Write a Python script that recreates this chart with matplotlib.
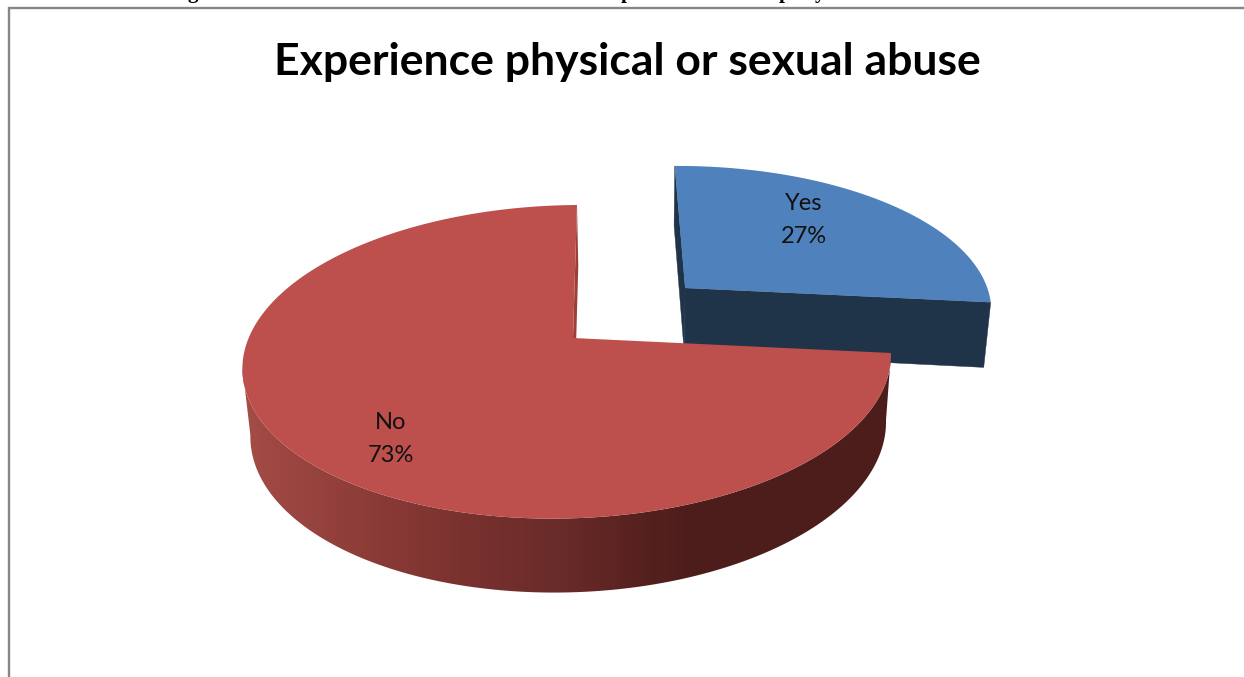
import numpy as np
import matplotlib
matplotlib.use("Agg")
import matplotlib.pyplot as plt
from matplotlib.patches import Polygon

# Survey answers
categories = ["Yes", "No"]
shares = [27, 73]
chart_title = "Experience physical or sexual abuse"

# Slice colours
top_colors = ["#4f81bd", "#bd4f4c"]
side_colors = ["#1f3349", "#9c3f3b"]

# Shading of the curved outer wall, left to right
wall_x = [250, 380, 470, 560, 650, 700, 890]
wall_rgb = np.array([[0xa3, 0x4b, 0x45], [0x8a, 0x3a, 0x36], [0x78, 0x31, 0x2e],
                     [0x69, 0x2b, 0x29], [0x54, 0x20, 0x1e], [0x4c, 0x1d, 0x1b],
                     [0x4c, 0x1d, 0x1b]]) / 255

W, H = 1244, 677
fig = plt.figure(figsize=(W / 100, H / 100), dpi=100)
ax = fig.add_axes([0, 0, 1, 1])
ax.set_xlim(0, W)
ax.set_ylim(H, 0)
ax.axis("off")


def homography(src, dst):
    """Solve the plane projection that takes disc coordinates to the canvas."""
    A, b = [], []
    for (u, v), (x, y) in zip(src, dst):
        A.append([u, v, 1, 0, 0, 0, -u * x, -v * x])
        A.append([0, 0, 0, u, v, 1, -u * y, -v * y])
        b += [x, y]
    return np.append(np.linalg.solve(np.array(A, float), np.array(b, float)), 1).reshape(3, 3)


first_end = np.radians(360 * shares[0] / sum(shares))
PROJ = homography(
    [(0, 0), (0, 1), (np.sin(first_end), np.cos(first_end)), (-1, 0)],
    [(573, 338), (577, 205), (891, 353), (247, 342.33)],
)


def project(u, v):
    p = PROJ @ np.vstack([u, v, np.ones_like(u)])
    return np.column_stack([p[0] / p[2], p[1] / p[2]])


def extrude(pts):
    """Drop the top surface to the bottom of the pie; nearer points drop further."""
    out = pts.copy()
    out[:, 0] += (641 - pts[:, 0]) * 0.02
    out[:, 1] += 65 + (pts[:, 1] - 300) * 0.041
    return out


def wedge(start, end, offset=(0.0, 0.0), radius=1.0):
    t = np.linspace(start, end, 240)
    us = np.r_[0, radius * np.sin(t)] + offset[0]
    vs = np.r_[0, radius * np.cos(t)] + offset[1]
    return project(us, vs)


fractions = np.array(shares) / sum(shares)
edges = np.r_[0, np.cumsum(fractions)] * 2 * np.pi

# Pulled-out slice
yes_top = wedge(edges[0], edges[1], offset=(0.365, 0.335), radius=1.015)
apex, back, tip = yes_top[0], yes_top[1], yes_top[-1]
for corner in ([back, apex], [apex, tip]):
    c = np.array(corner)
    ax.add_patch(Polygon(np.vstack([c, extrude(c)[::-1]]), fc=side_colors[0], ec=side_colors[0], lw=0.3, zorder=2))
ax.add_patch(Polygon(yes_top, fc=top_colors[0], ec="none", zorder=3))

# Main slice
no_top = wedge(edges[1], edges[2])
apex, back = no_top[0], no_top[-1]
c = np.array([back, apex])
ax.add_patch(Polygon(np.vstack([c, extrude(c)[::-1]]), fc=side_colors[1], ec="none", zorder=4))

rim = no_top[1:]
left_end = int(np.argmin(rim[:, 0])) + 1
rim = rim[:left_end]
wall = Polygon(np.vstack([rim, extrude(rim)[::-1]]), transform=ax.transData, fc="none", ec="none")
ax.add_patch(wall)
xs = np.arange(230, 900)
grad = np.stack([np.interp(xs, wall_x, wall_rgb[:, i]) for i in range(3)], axis=-1)[None, :, :]
im = ax.imshow(grad, extent=(230, 900, 610, 340), aspect="auto", interpolation="nearest", zorder=5)
im.set_clip_path(wall)
ax.set_xlim(0, W)
ax.set_ylim(H, 0)
ax.add_patch(Polygon(no_top, fc=top_colors[1], ec="none", zorder=6))

# Slice labels
label_xy = [(804, 220), (391, 439)]
for name, share, (x, y) in zip(categories, shares, label_xy):
    ax.text(x, y, f"{name}\n{share}%", ha="center", va="center", fontsize=17,
            family="Lato", color="#111111", linespacing=1.68, zorder=7)

ax.text(627, 75, chart_title, ha="center", va="baseline", fontsize=32,
        family="Lato", weight="bold", color="black", zorder=7)

# Chart frame
ax.plot([9, 9, W], [H, 8, 8], color="#868686", lw=1.7, solid_joinstyle="miter", zorder=1)

# Descenders of the running heading, cut by the page edge
for ch, x in zip("gppy", (193, 627, 785, 820)):
    ax.text(x, -2, ch, ha="center", va="baseline", fontsize=15, family="Liberation Serif",
            weight="bold", color="black", clip_on=True, zorder=7)

fig.savefig("out.png", dpi=100)
